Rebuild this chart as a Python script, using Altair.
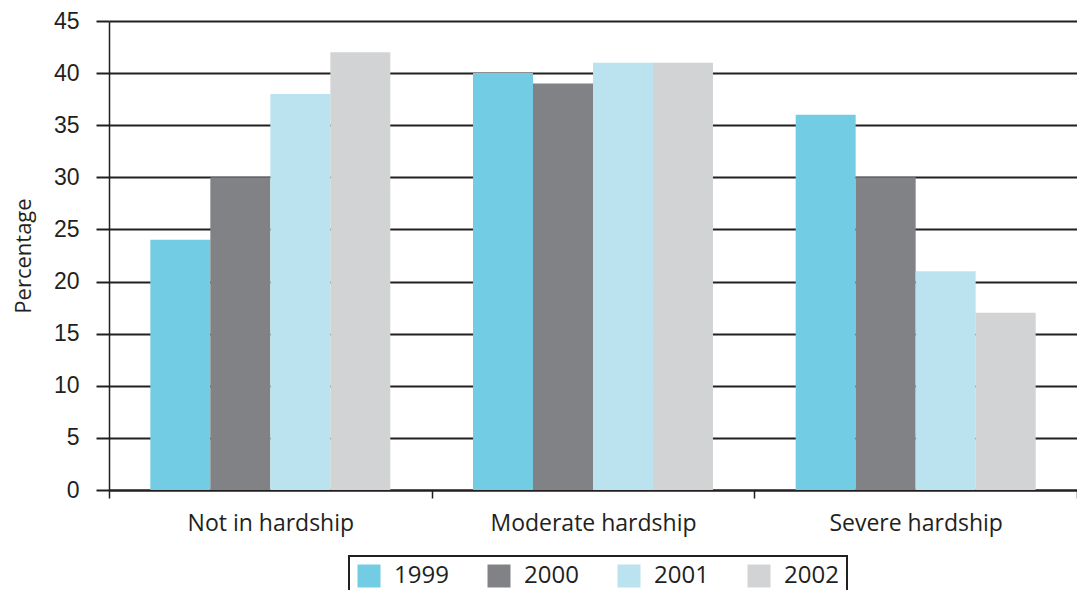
import altair as alt
import pandas as pd

categories = ["Not in hardship", "Moderate hardship", "Severe hardship"]
years = ["1999", "2000", "2001", "2002"]
values_1999 = [24, 40, 36]
values_2000 = [30, 39, 30]
values_2001 = [38, 41, 21]
values_2002 = [42, 41, 17]
colors = ["#72CDE4", "#808285", "#BAE3EF", "#D1D3D4"]
y_ticks = [0, 5, 10, 15, 20, 25, 30, 35, 40, 45]

series = [values_1999, values_2000, values_2001, values_2002]
rows = []
for yr, vals in zip(years, series):
    for c, v in zip(categories, vals):
        rows.append({"category": c, "year": yr, "value": v})
df = pd.DataFrame(rows)

ink = "#231F20"

chart = alt.Chart(df).mark_bar().encode(
    x=alt.X("category:N", sort=categories,
            scale=alt.Scale(paddingInner=0, paddingOuter=0),
            axis=alt.Axis(title=None, labelAngle=0, tickBand="extent",
                          tickSize=8, tickColor=ink, tickWidth=1.5,
                          domainColor=ink, domainWidth=2, labelLimit=0,
                          labelFont="Open Sans", labelFontSize=23,
                          labelColor=ink, labelPadding=14)),
    xOffset=alt.XOffset("year:N", sort=years,
                        scale=alt.Scale(paddingInner=0, paddingOuter=0.689)),
    y=alt.Y("value:Q", scale=alt.Scale(domain=[0, 45], nice=False),
            axis=alt.Axis(title="Percentage", values=y_ticks,
                          titleFont="Open Sans", titleFontSize=22,
                          titleFontWeight="normal", titleColor=ink,
                          titlePadding=18,
                          labelFont="Liberation Sans", labelFontSize=23,
                          labelColor=ink, labelPadding=17,
                          tickSize=13, tickColor=ink, tickWidth=2,
                          domainColor=ink, domainWidth=1.5,
                          grid=True, gridColor=ink, gridWidth=2)),
    color=alt.Color("year:N", sort=years,
                    scale=alt.Scale(domain=years, range=colors),
                    legend=alt.Legend(title=None, orient="none",
                                      legendX=240, legendY=535,
                                      direction="horizontal",
                                      symbolType="square", symbolSize=529,
                                      symbolStrokeWidth=0, labelLimit=0,
                                      labelFont="Open Sans", labelFontSize=24,
                                      labelColor=ink, labelOffset=13,
                                      columnPadding=38, padding=8,
                                      strokeColor=ink, fillColor="white")),
).properties(
    width=968, height=469,
    autosize=alt.AutoSizeParams(type="none"),
    padding={"left": 101, "top": 13, "right": 0, "bottom": 100},
).configure_view(stroke=None).configure_legend(strokeWidth=2)

chart.save("out.html", embed_options={"renderer": "svg", "actions": False})
